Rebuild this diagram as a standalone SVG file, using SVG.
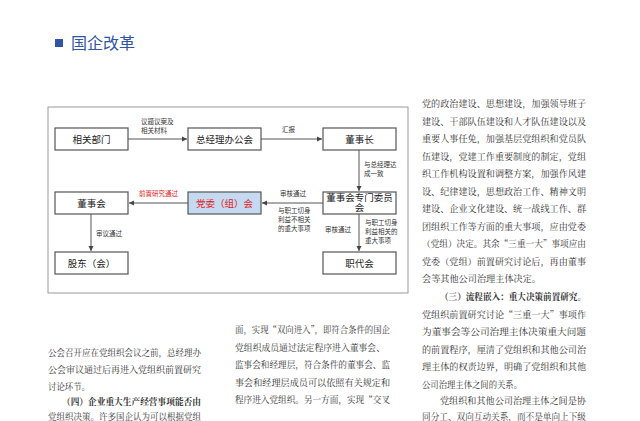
<svg xmlns="http://www.w3.org/2000/svg" width="640" height="421" viewBox="0 0 640 421">
<defs>
<marker id="ah" markerWidth="6" markerHeight="6" refX="5" refY="3" orient="auto" markerUnits="userSpaceOnUse"><path d="M0,0.5 L5,3 L0,5.5 Z" fill="#444"/></marker>
<style>
.box{fill:#fff;stroke:#555;stroke-width:1.2}
.bt{font-family:"Liberation Sans","Noto Sans CJK SC",sans-serif;font-size:9.5px;fill:#222;text-anchor:middle}
.sm{font-family:"Liberation Sans","Noto Sans CJK SC",sans-serif;font-size:6.5px;fill:#333}
.ln{stroke:#555;stroke-width:1;fill:none;marker-end:url(#ah)}
.body{font-family:"Noto Serif CJK SC","Noto Sans CJK SC",serif;font-size:9.2px;fill:#333}
</style>
</defs>
<rect width="640" height="421" fill="#fff"/>
<rect x="55" y="39" width="8" height="8" fill="#2f55a4"/>
<text x="71" y="49" font-family="Liberation Sans,Noto Sans CJK SC,sans-serif" font-size="16" fill="#2f55a4">国企改革</text>
<rect x="48" y="107" width="360" height="186" fill="#fff" stroke="#999" stroke-width="1"/>
<g id="connectors">
<line class="ln" x1="128" y1="139" x2="187" y2="139"/>
<line class="ln" x1="261" y1="139" x2="322" y2="139"/>
<line class="ln" x1="359" y1="150" x2="359" y2="191"/>
<line class="ln" x1="323" y1="203" x2="262" y2="203"/>
<line class="ln" x1="188" y1="203" x2="129" y2="203"/>
<line class="ln" x1="91" y1="214" x2="91" y2="251"/>
<line class="ln" x1="359" y1="214" x2="359" y2="251"/>
<text class="sm" x="141" y="124">议题议案及</text>
<text class="sm" x="141" y="133">相关材料</text>
<text class="sm" x="282" y="132">汇报</text>
<text class="sm" x="364" y="167">与总经理达</text>
<text class="sm" x="364" y="176">成一致</text>
<text class="sm" x="280" y="196">审核通过</text>
<text class="sm" x="278" y="213">与职工切身</text>
<text class="sm" x="278" y="222">利益不相关</text>
<text class="sm" x="278" y="231">的重大事项</text>
<text class="sm" x="139" y="196" style="fill:#e02020">前置研究通过</text>
<text class="sm" x="96" y="236">审议通过</text>
<text class="sm" x="325" y="232">审核通过</text>
<text class="sm" x="365" y="225">与职工切身</text>
<text class="sm" x="365" y="234">利益相关的</text>
<text class="sm" x="365" y="243">重大事项</text>
</g>
<g id="n1"><rect class="box" x="55" y="128" width="73" height="22"/><text class="bt" x="91.5" y="143">相关部门</text></g>
<g id="n2"><rect class="box" x="188" y="128" width="73" height="22"/><text class="bt" x="224.5" y="143">总经理办公会</text></g>
<g id="n3"><rect class="box" x="323" y="128" width="73" height="22"/><text class="bt" x="359.5" y="143">董事长</text></g>
<g id="n4"><rect class="box" x="55" y="192" width="73" height="22"/><text class="bt" x="91.5" y="207">董事会</text></g>
<g id="n5"><rect x="188" y="192" width="73" height="22" fill="#c5daf0" stroke="#555" stroke-width="1.2"/><text class="bt" x="224.5" y="207" style="fill:#e02020">党委（组）会</text></g>
<g id="n6"><rect class="box" x="323" y="192" width="73" height="22"/><text class="bt" x="359.5" y="201">董事会专门委员</text><text class="bt" x="359.5" y="211">会</text></g>
<g id="n7"><rect class="box" x="55" y="252" width="73" height="22"/><text class="bt" x="91.5" y="267">股东（会）</text></g>
<g id="n8"><rect class="box" x="323" y="252" width="73" height="22"/><text class="bt" x="359.5" y="267">职代会</text></g>
<g class="body">
<text x="422" y="107" textLength="164" lengthAdjust="spacingAndGlyphs">党的政治建设、思想建设，加强领导班子</text>
<text x="422" y="124.5" textLength="164" lengthAdjust="spacingAndGlyphs">建设、干部队伍建设和人才队伍建设以及</text>
<text x="422" y="142" textLength="164" lengthAdjust="spacingAndGlyphs">重要人事任免，加强基层党组织和党员队</text>
<text x="422" y="159.5" textLength="164" lengthAdjust="spacingAndGlyphs">伍建设，党建工作重要制度的制定，党组</text>
<text x="422" y="177" textLength="164" lengthAdjust="spacingAndGlyphs">织工作机构设置和调整方案，加强作风建</text>
<text x="422" y="194.5" textLength="164" lengthAdjust="spacingAndGlyphs">设、纪律建设，思想政治工作、精神文明</text>
<text x="422" y="212" textLength="164" lengthAdjust="spacingAndGlyphs">建设、企业文化建设、统一战线工作、群</text>
<text x="422" y="229.5" textLength="164" lengthAdjust="spacingAndGlyphs">团组织工作等方面的重大事项，应由党委</text>
<text x="422" y="247" textLength="164" lengthAdjust="spacingAndGlyphs">（党组）决定。其余“三重一大”事项应由</text>
<text x="422" y="264.5" textLength="164" lengthAdjust="spacingAndGlyphs">党委（党组）前置研究讨论后，再由董事</text>
<text x="422" y="282" textLength="119" lengthAdjust="spacingAndGlyphs">会等其他公司治理主体决定。</text>
<text x="440" y="300" font-weight="bold" textLength="146" lengthAdjust="spacingAndGlyphs">（三）流程嵌入：重大决策前置研究。</text>
<text x="422" y="317.5" textLength="164" lengthAdjust="spacingAndGlyphs">党组织前置研究讨论“三重一大”事项作</text>
<text x="422" y="335" textLength="164" lengthAdjust="spacingAndGlyphs">为董事会等公司治理主体决策重大问题</text>
<text x="422" y="352.5" textLength="164" lengthAdjust="spacingAndGlyphs">的前置程序，厘清了党组织和其他公司治</text>
<text x="422" y="370" textLength="164" lengthAdjust="spacingAndGlyphs">理主体的权责边界，明确了党组织和其他</text>
<text x="422" y="387.5" textLength="100" lengthAdjust="spacingAndGlyphs">公司治理主体之间的关系。</text>
<text x="440" y="404" textLength="146" lengthAdjust="spacingAndGlyphs">党组织和其他公司治理主体之间是协</text>
<text x="422" y="420" textLength="164" lengthAdjust="spacingAndGlyphs">同分工、双向互动关系，而不是单向上下级</text>
<text x="48" y="356" textLength="153" lengthAdjust="spacingAndGlyphs">公会召开应在党组织会议之前，总经理办</text>
<text x="48" y="373" textLength="153" lengthAdjust="spacingAndGlyphs">公会审议通过后再进入党组织前置研究</text>
<text x="48" y="390" textLength="42" lengthAdjust="spacingAndGlyphs">讨论环节。</text>
<text x="62" y="405" font-weight="bold" textLength="139" lengthAdjust="spacingAndGlyphs">（四）企业重大生产经营事项能否由</text>
<text x="48" y="420" textLength="153" lengthAdjust="spacingAndGlyphs">党组织决策。许多国企认为可以根据党组</text>
<text x="235" y="333" textLength="155" lengthAdjust="spacingAndGlyphs">面，实现“双向进入”，即符合条件的国企</text>
<text x="235" y="350.5" textLength="150" lengthAdjust="spacingAndGlyphs">党组织成员通过法定程序进入董事会、</text>
<text x="235" y="368" textLength="155" lengthAdjust="spacingAndGlyphs">监事会和经理层，符合条件的董事会、监</text>
<text x="235" y="385.5" textLength="155" lengthAdjust="spacingAndGlyphs">事会和经理层成员可以依照有关规定和</text>
<text x="235" y="403" textLength="155" lengthAdjust="spacingAndGlyphs">程序进入党组织。另一方面，实现“交叉</text>
</g>
</svg>
